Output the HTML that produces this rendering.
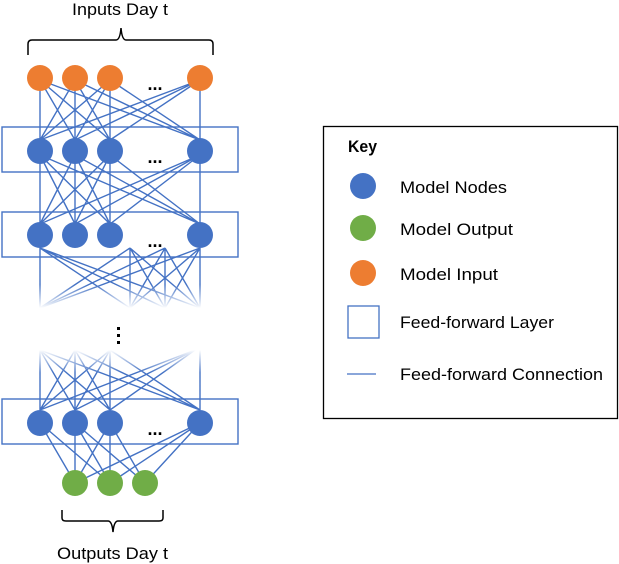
<!DOCTYPE html>
<html><head><style>body{margin:0;background:#fff}svg{display:block}</style></head><body>
<svg width="619" height="564" xmlns="http://www.w3.org/2000/svg" font-family="Liberation Sans, sans-serif">
<defs>
<linearGradient id="fd" x1="0" y1="250" x2="0" y2="308" gradientUnits="userSpaceOnUse"><stop offset="0.6" stop-color="#4472c4" stop-opacity="1"/><stop offset="1" stop-color="#4472c4" stop-opacity="0"/></linearGradient>
<linearGradient id="fu" x1="0" y1="350" x2="0" y2="400" gradientUnits="userSpaceOnUse"><stop offset="0" stop-color="#4472c4" stop-opacity="0"/><stop offset="0.45" stop-color="#4472c4" stop-opacity="1"/></linearGradient>
</defs>
<text x="72" y="15" font-size="17" textLength="96" lengthAdjust="spacingAndGlyphs">Inputs Day t</text>
<path d="M28,55 V44 Q28,40 32,40 H116 Q120,40 121,28 Q122,40 126,40 H209 Q213,40 213,44 V55" fill="none" stroke="#000" stroke-width="1.5"/>
<g stroke="#4472c4" stroke-width="1.4" fill="none">
<rect x="2" y="127" width="236" height="45"/>
<rect x="2" y="212" width="236" height="45"/>
<rect x="2" y="399" width="236" height="45"/>
<path d="M40,80L40,140M40,80L75,140M40,80L110,140M40,80L200,140M75,80L40,140M75,80L75,140M75,80L110,140M75,80L200,140M110,80L40,140M110,80L75,140M110,80L110,140M110,80L200,140M200,80L40,140M200,80L75,140M200,80L110,140M200,80L200,140"/>
<path d="M40,155L40,224M40,155L75,224M40,155L110,224M40,155L200,224M75,155L40,224M75,155L75,224M75,155L110,224M75,155L200,224M110,155L40,224M110,155L75,224M110,155L110,224M110,155L200,224M200,155L40,224M200,155L75,224M200,155L110,224M200,155L200,224"/>
<path stroke="url(#fd)" d="M40,248L40,308M40,248L130,308M40,248L165,308M40,248L200,308M130,248L40,308M130,248L165,308M130,248L200,308M165,248L40,308M165,248L130,308M165,248L200,308M200,248L40,308M200,248L130,308M200,248L165,308M200,248L200,308M130,248L130,308M165,248L165,308"/>
<path stroke="url(#fu)" d="M40,350L40,410M40,350L75,410M40,350L110,410M40,350L200,410M75,350L40,410M75,350L75,410M75,350L110,410M75,350L200,410M110,350L40,410M110,350L75,410M110,350L110,410M110,350L200,410M195,350L40,410M195,350L75,410M195,350L110,410M200,350L200,410"/>
<path d="M40,423L75,483M40,423L110,483M75,423L75,483M75,423L110,483M75,423L145,483M110,423L75,483M110,423L110,483M110,423L145,483M200,423L75,483M200,423L110,483M200,423L145,483"/>
</g>
<g fill="#ed7d31"><circle cx="40" cy="78" r="13"/><circle cx="75" cy="78" r="13"/><circle cx="110" cy="78" r="13"/><circle cx="200" cy="78" r="13"/></g>
<g fill="#4472c4"><circle cx="40" cy="151" r="13"/><circle cx="75" cy="151" r="13"/><circle cx="110" cy="151" r="13"/><circle cx="200" cy="151" r="13"/>
<circle cx="40" cy="235" r="13"/><circle cx="75" cy="235" r="13"/><circle cx="110" cy="235" r="13"/><circle cx="200" cy="235" r="13"/>
<circle cx="40" cy="423" r="13"/><circle cx="75" cy="423" r="13"/><circle cx="110" cy="423" r="13"/><circle cx="200" cy="423" r="13"/></g>
<g fill="#70ad47"><circle cx="75" cy="483" r="13"/><circle cx="110" cy="483" r="13"/><circle cx="145" cy="483" r="13"/></g>
<g fill="#000"><text x="155" y="90" font-size="18" text-anchor="middle" font-weight="bold">...</text>
<text x="155" y="163" font-size="18" text-anchor="middle" font-weight="bold">...</text>
<text x="155" y="247" font-size="18" text-anchor="middle" font-weight="bold">...</text>
<text x="155" y="435" font-size="18" text-anchor="middle" font-weight="bold">...</text>
<rect x="117" y="327" width="3" height="3"/><rect x="117" y="334" width="3" height="3"/><rect x="117" y="341" width="3" height="3"/></g>
<path d="M62,510 V518 Q62,521 66,521 H108 Q112,521 113,532 Q114,521 118,521 H159 Q163,521 163,518 V510" fill="none" stroke="#000" stroke-width="1.5"/>
<text x="57" y="559" font-size="17" textLength="111" lengthAdjust="spacingAndGlyphs">Outputs Day t</text>
<rect x="323.5" y="126.5" width="294" height="292" fill="none" stroke="#000" stroke-width="1.3"/>
<text x="348" y="152" font-size="17" font-weight="bold" textLength="29" lengthAdjust="spacingAndGlyphs">Key</text>
<circle cx="363" cy="186" r="13" fill="#4472c4"/>
<circle cx="363" cy="228" r="13" fill="#70ad47"/>
<circle cx="363" cy="273" r="13" fill="#ed7d31"/>
<rect x="348" y="306" width="31" height="32" fill="none" stroke="#4472c4" stroke-width="1.3"/>
<line x1="347" y1="374" x2="376" y2="374" stroke="#4472c4" stroke-width="1.3"/>
<g font-size="17" fill="#000" lengthAdjust="spacingAndGlyphs">
<text x="400" y="193" textLength="107" lengthAdjust="spacingAndGlyphs">Model Nodes</text>
<text x="400" y="235" textLength="113" lengthAdjust="spacingAndGlyphs">Model Output</text>
<text x="400" y="280" textLength="98" lengthAdjust="spacingAndGlyphs">Model Input</text>
<text x="400" y="328" textLength="154" lengthAdjust="spacingAndGlyphs">Feed-forward Layer</text>
<text x="400" y="380" textLength="203" lengthAdjust="spacingAndGlyphs">Feed-forward Connection</text></g>
</svg>
</body></html>
